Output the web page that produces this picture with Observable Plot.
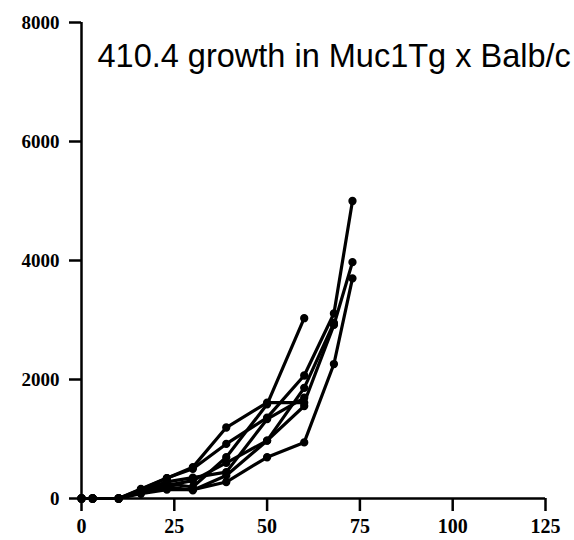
<!DOCTYPE html>
<html>
<head>
<meta charset="utf-8">
<script src="https://cdn.jsdelivr.net/npm/d3@7"></script>
<script src="https://cdn.jsdelivr.net/npm/@observablehq/plot@0.6"></script>
<style>
  html, body { margin: 0; padding: 0; background: #fff; }
  #chart svg { display: block; }
</style>
</head>
<body>
<div id="chart"></div>
<script>
const title = "410.4 growth in Muc1Tg x Balb/c";
const days = [0, 3, 10, 16, 23, 30, 39, 50, 60, 68, 73];
const mouse1 = [0, 0, 0, 150, 340, 527, 1193, 1610, 1610, 2917, 3972];
const mouse2 = [0, 0, 0, 120, 250, 193, 693, 1583, 3030, null, null];
const mouse3 = [0, 0, 0, 160, 343, 500, 917, 1360, 2067, 3110, 5000];
const mouse4 = [0, 0, 0, 100, 200, 138, 388, 972, 1860, 2950, null];
const mouse5 = [0, 0, 0, 80, 150, 150, 277, 693, 943, 2260, 3700];
const mouse6 = [0, 0, 0, 130, 280, 350, 443, 1333, 1693, null, null];
const mouse7 = [0, 0, 0, 110, 220, 300, 600, 972, 1555, null, null];
const xTicks = [0, 25, 50, 75, 100, 125];
const yTicks = [0, 2000, 4000, 6000, 8000];

const series = {m1: mouse1, m2: mouse2, m3: mouse3, m4: mouse4, m5: mouse5, m6: mouse6, m7: mouse7};
const data = [];
for (const [id, vals] of Object.entries(series)) {
  vals.forEach((v, i) => { if (v != null) data.push({id, day: days[i], volume: v}); });
}

const serif = "'Liberation Serif', 'DejaVu Serif', serif";
const chart = Plot.plot({
  width: 574,
  height: 540,
  marginLeft: 81,
  marginRight: 29,
  marginTop: 22,
  marginBottom: 42,
  style: {background: "#fff", color: "#000"},
  x: {domain: [0, 125], ticks: xTicks},
  y: {domain: [0, 8000], ticks: yTicks},
  marks: [
    Plot.axisX({ticks: xTicks, tickSize: 13, tickPadding: 7, strokeWidth: 2.5, fontSize: 20, fontFamily: serif, fontWeight: "bold", label: null, tickFormat: d => String(d)}),
    Plot.axisY({ticks: yTicks, tickSize: 12, tickPadding: 10, strokeWidth: 2.5, fontSize: 19, fontFamily: serif, fontWeight: "bold", label: null, tickFormat: d => String(d)}),
    Plot.ruleX([0], {y1: 0, y2: 8000, strokeWidth: 2.5}),
    Plot.ruleY([0], {x1: 0, x2: 125, strokeWidth: 2.5}),
    Plot.line(data, {x: "day", y: "volume", z: "id", stroke: "#000", strokeWidth: 3.2}),
    Plot.dot(data, {x: "day", y: "volume", r: 3.4, fill: "#000", stroke: "#000", strokeWidth: 1.5}),
    Plot.text([title], {frameAnchor: "top-left", dx: 16, dy: 21, fontSize: 32.5, fontFamily: "'Liberation Sans', Arial, sans-serif", textAnchor: "start", lineAnchor: "top", fill: "#000"})
  ]
});
document.getElementById("chart").appendChild(chart);
</script>
</body>
</html>
